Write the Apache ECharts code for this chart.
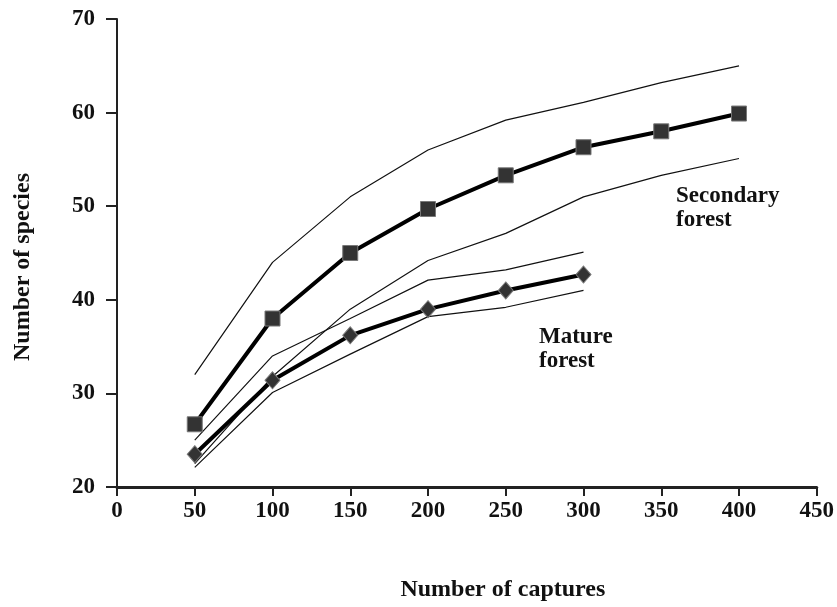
<!DOCTYPE html>
<html>
<head>
<meta charset="utf-8">
<script src="https://cdn.jsdelivr.net/npm/echarts@6/dist/echarts.min.js"></script>
<style>
  html, body { margin: 0; padding: 0; background: #fff; }
  #chart { width: 837px; height: 607px; }
</style>
</head>
<body>
<div id="chart"></div>
<script>
const captures = [50, 100, 150, 200, 250, 300, 350, 400]
const xTicks = [0, 50, 100, 150, 200, 250, 300, 350, 400, 450]
const yTicks = [20, 30, 40, 50, 60, 70]

// secondary forest: mean and the two bounds
const secMean = [26.7, 38, 45, 49.7, 53.3, 56.3, 58, 59.9]
const secUpper = [32, 44, 51, 56, 59.2, 61.1, 63.2, 65]
const secLower = [22.5, 31.8, 39, 44.2, 47.1, 51, 53.3, 55.1]

// mature forest (to 300 captures)
const matMean = [23.5, 31.4, 36.2, 39, 41, 42.7]
const matUpper = [25, 34, 38, 42.1, 43.2, 45.1]
const matLower = [22.1, 30.1, 34.2, 38.2, 39.2, 41]

const font = '"Liberation Serif", "Times New Roman", serif'

function pairs(ys) {
  return ys.map((y, i) => [captures[i], y])
}

function thinLine(ys) {
  return {
    type: 'line',
    data: pairs(ys),
    symbol: 'none',
    silent: true,
    lineStyle: { color: '#111', width: 1.2 },
    z: 2,
  }
}

function meanLine(ys, symbol, size) {
  return {
    type: 'line',
    data: pairs(ys),
    symbol: symbol,
    symbolSize: size,
    showAllSymbol: true,
    lineStyle: { color: '#000', width: 4 },
    itemStyle: { color: '#333', borderColor: '#777', borderWidth: 1 },
    z: 3,
  }
}

const chart = echarts.init(document.getElementById('chart'))

chart.setOption({
  backgroundColor: '#fff',
  animation: false,
  grid: {
    left: 117,
    right: 14,
    top: 19,
    bottom: 120,
  },
  xAxis: {
    type: 'value',
    min: xTicks[0],
    max: xTicks[xTicks.length - 1],
    interval: 50,
    name: 'Number of captures',
    nameLocation: 'middle',
    nameGap: 91,
    nameTextStyle: {
      fontFamily: font,
      fontWeight: 'bold',
      fontSize: 24,
      color: '#111',
      padding: [0, 0, 0, 72],
    },
    axisLine: { onZero: false, lineStyle: { color: '#222', width: 3 } },
    axisTick: { length: 9, lineStyle: { color: '#222', width: 2 } },
    axisLabel: {
      margin: 13,
      fontFamily: font,
      fontWeight: 'bold',
      fontSize: 23,
      color: '#111',
    },
    splitLine: { show: false },
  },
  yAxis: {
    type: 'value',
    min: yTicks[0],
    max: yTicks[yTicks.length - 1],
    interval: 10,
    name: 'Number of species',
    nameLocation: 'middle',
    nameGap: 82,
    nameTextStyle: {
      fontFamily: font,
      fontWeight: 'bold',
      fontSize: 24,
      color: '#111',
      padding: [0, 28, 0, 0],
    },
    axisLine: { lineStyle: { color: '#222', width: 2 } },
    axisTick: { length: 11, lineStyle: { color: '#222', width: 2 } },
    axisLabel: {
      margin: 22,
      fontFamily: font,
      fontWeight: 'bold',
      fontSize: 23,
      color: '#111',
    },
    splitLine: { show: false },
  },
  series: [
    thinLine(secUpper),
    thinLine(secLower),
    thinLine(matUpper),
    thinLine(matLower),
    meanLine(secMean, 'rect', 15),
    meanLine(matMean, 'diamond', [15, 17]),
  ],
  graphic: [
    {
      type: 'text',
      left: 676,
      top: 184,
      style: {
        text: 'Secondary\nforest',
        font: 'bold 23px ' + font,
        lineHeight: 24,
        fill: '#111',
      },
    },
    {
      type: 'text',
      left: 539,
      top: 325,
      style: {
        text: 'Mature\nforest',
        font: 'bold 23px ' + font,
        lineHeight: 24,
        fill: '#111',
      },
    },
  ],
})
</script>
</body>
</html>
